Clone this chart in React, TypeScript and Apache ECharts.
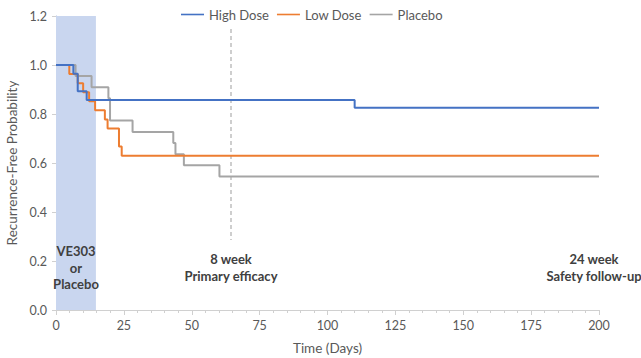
import React, { useEffect, useRef } from "react";
import * as echarts from "echarts";

const seriesNames = ["High Dose", "Low Dose", "Placebo"];
const colors = ["#4472C4", "#ED7D31", "#A5A5A5"];

const highDays = [0, 6.4, 8, 11.3, 110, 200];
const highVals = [1, 0.964, 0.893, 0.857, 0.826, 0.826];

const lowDays = [0, 4.9, 8, 10, 12.2, 14.4, 18, 19, 23.2, 24.2, 200];
const lowVals = [1, 0.963, 0.926, 0.889, 0.852, 0.815, 0.778, 0.741, 0.667, 0.63, 0.63];

const placeboDays = [0, 7.2, 13.1, 19.3, 19.9, 28.2, 43.2, 44, 47.1, 60.2, 200];
const placeboVals = [1, 0.955, 0.909, 0.864, 0.773, 0.727, 0.682, 0.636, 0.591, 0.545, 0.545];

const dosingEnd = 14.7;
const primaryDay = 64.5;

const FONT = "Lato";

function pairs(xs: number[], ys: number[]) {
  return xs.map((x, i) => [x, ys[i]]);
}

export default function App() {
  const ref = useRef<HTMLDivElement>(null);
  useEffect(() => {
    if (!ref.current) return;
    const chart = echarts.init(ref.current, null, { renderer: "svg" });
    const allData = [
      pairs(highDays, highVals),
      pairs(lowDays, lowVals),
      pairs(placeboDays, placeboVals),
    ];
    const series: any[] = allData.map((d, i) => ({
      name: seriesNames[i],
      type: "line",
      step: "end",
      data: d,
      symbol: "none",
      lineStyle: { color: colors[i], width: 2 },
      itemStyle: { color: colors[i] },
      z: 10 - i,
    }));
    series[0].markArea = {
      silent: true,
      itemStyle: { color: "#c9d6ef" },
      data: [[{ xAxis: 0, yAxis: 1.2 }, { xAxis: dosingEnd, yAxis: 0 }]],
    };
    series[0].markLine = {
      silent: true,
      symbol: "none",
      label: { show: false },
      lineStyle: { color: "#bfbfbf", type: [4, 3], width: 1.5 },
      data: [
        [{ coord: [primaryDay, 1.147] }, { coord: [primaryDay, 0.286] }],
        [{ coord: [primaryDay, 0.082] }, { coord: [primaryDay, -0.033] }],
      ],
    };
    const textBase = {
      align: "center",
      fill: "#404040",
      font: `bold 13px ${FONT}`,
    };
    chart.setOption({
      animation: false,
      textStyle: { fontFamily: FONT },
      legend: {
        top: 3,
        left: 176,
        itemWidth: 23,
        itemHeight: 10,
        itemGap: 8,
        icon: "path://M0,4.2 L23,4.2 L23,5.8 L0,5.8 Z",
        textStyle: { color: "#595959", fontSize: 13, fontFamily: FONT },
        data: seriesNames,
      },
      grid: { left: 56, right: 42, top: 16, bottom: 48, outerBoundsMode: "none", containLabel: false },
      xAxis: {
        type: "value",
        min: 0,
        max: 200,
        interval: 25,
        name: "Time (Days)",
        nameLocation: "middle",
        nameGap: 31,
        nameTextStyle: { color: "#595959", fontSize: 13.5, fontFamily: FONT },
        axisLine: { show: true, lineStyle: { color: "#d0d0d0" } },
        axisTick: { show: true, length: 5, lineStyle: { color: "#d0d0d0" } },
        minorTick: { show: true, splitNumber: 5, length: 3, lineStyle: { color: "#d0d0d0" } },
        axisLabel: { color: "#595959", fontSize: 12.5, margin: 9, fontFamily: FONT },
        splitLine: { show: false },
      },
      yAxis: {
        type: "value",
        min: 0,
        max: 1.2,
        interval: 0.2,
        name: "Recurrence-Free Probability",
        nameLocation: "middle",
        nameGap: 37,
        nameTextStyle: { color: "#595959", fontSize: 13.5, fontFamily: FONT },
        axisLine: { show: true, lineStyle: { color: "#a9b9dc" } },
        axisTick: { show: true, length: 4, lineStyle: { color: "#d0d0d0" } },
        axisLabel: {
          color: "#595959",
          fontSize: 12.5,
          margin: 9,
          fontFamily: FONT,
          formatter: (v: number) => v.toFixed(1),
        },
        splitLine: { show: false },
      },
      graphic: [
        {
          type: "text",
          x: 76,
          y: 243,
          z: 100,
          style: { ...textBase, text: "VE303\nor\nPlacebo", lineHeight: 16.5 },
        },
        {
          type: "text",
          x: 231,
          y: 250,
          z: 100,
          style: { ...textBase, text: "8 week\nPrimary efficacy", lineHeight: 17 },
        },
        {
          type: "text",
          x: 594,
          y: 250,
          z: 100,
          style: { ...textBase, text: "24 week\nSafety follow-up", lineHeight: 17 },
        },
      ],
      series,
    });
    return () => chart.dispose();
  }, []);
  return <div ref={ref} style={{ width: 641, height: 358, position: "absolute", left: 0, top: 0 }} />;
}
